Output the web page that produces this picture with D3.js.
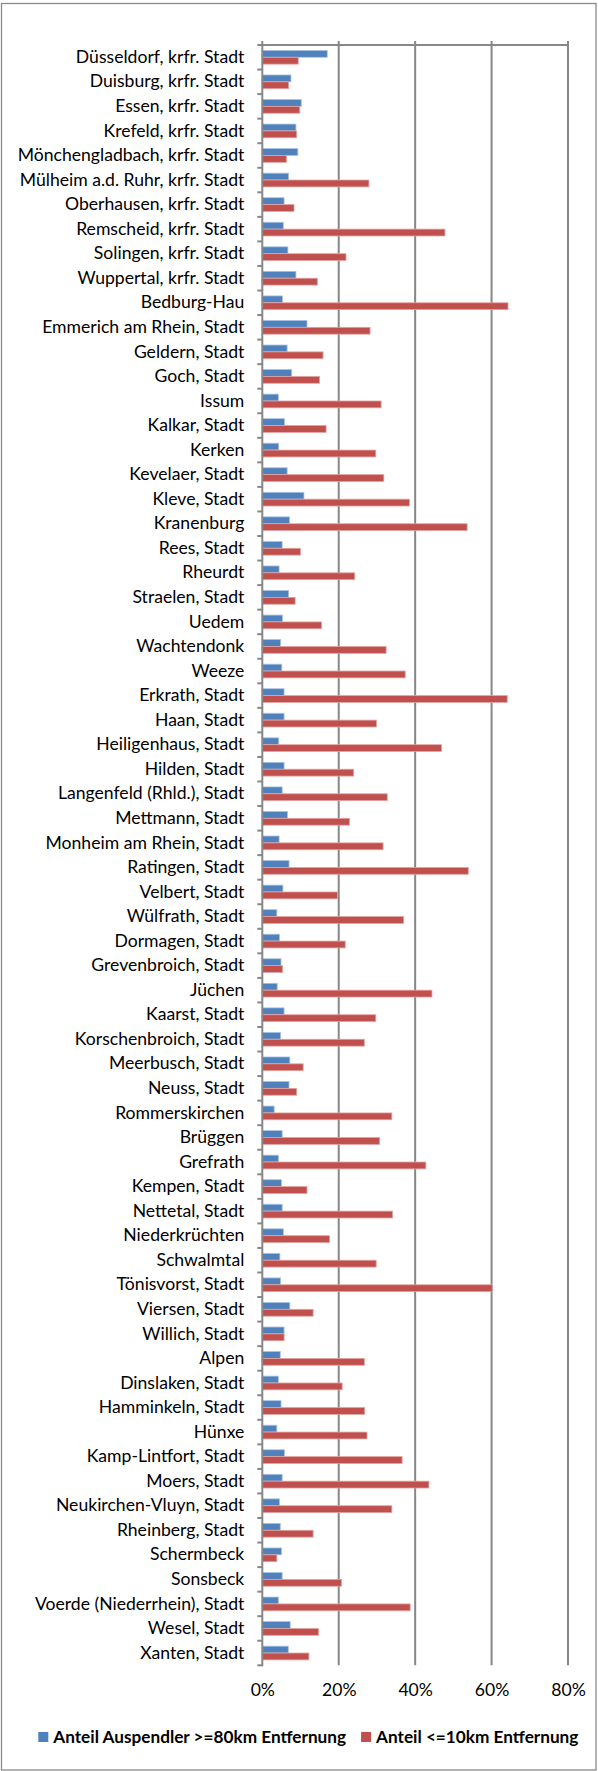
<!DOCTYPE html>
<html>
<head>
<meta charset="utf-8">
<script src="https://cdn.jsdelivr.net/npm/d3@7"></script>
<style>
  body { margin: 0; background: #fff; }
  text { font-family: Lato, "Open Sans", sans-serif; fill: #000; }
</style>
</head>
<body>
<svg id="chart" width="598" height="1771"></svg>
<script>
// Municipalities (Regierungsbezirk Düsseldorf), top to bottom
const categories = [
  "Düsseldorf, krfr. Stadt", "Duisburg, krfr. Stadt", "Essen, krfr. Stadt", "Krefeld, krfr. Stadt",
  "Mönchengladbach, krfr. Stadt", "Mülheim a.d. Ruhr, krfr. Stadt", "Oberhausen, krfr. Stadt",
  "Remscheid, krfr. Stadt", "Solingen, krfr. Stadt", "Wuppertal, krfr. Stadt", "Bedburg-Hau",
  "Emmerich am Rhein, Stadt", "Geldern, Stadt", "Goch, Stadt", "Issum", "Kalkar, Stadt", "Kerken",
  "Kevelaer, Stadt", "Kleve, Stadt", "Kranenburg", "Rees, Stadt", "Rheurdt", "Straelen, Stadt",
  "Uedem", "Wachtendonk", "Weeze", "Erkrath, Stadt", "Haan, Stadt", "Heiligenhaus, Stadt",
  "Hilden, Stadt", "Langenfeld (Rhld.), Stadt", "Mettmann, Stadt", "Monheim am Rhein, Stadt",
  "Ratingen, Stadt", "Velbert, Stadt", "Wülfrath, Stadt", "Dormagen, Stadt", "Grevenbroich, Stadt",
  "Jüchen", "Kaarst, Stadt", "Korschenbroich, Stadt", "Meerbusch, Stadt", "Neuss, Stadt",
  "Rommerskirchen", "Brüggen", "Grefrath", "Kempen, Stadt", "Nettetal, Stadt", "Niederkrüchten",
  "Schwalmtal", "Tönisvorst, Stadt", "Viersen, Stadt", "Willich, Stadt", "Alpen",
  "Dinslaken, Stadt", "Hamminkeln, Stadt", "Hünxe", "Kamp-Lintfort, Stadt", "Moers, Stadt",
  "Neukirchen-Vluyn, Stadt", "Rheinberg, Stadt", "Schermbeck", "Sonsbeck",
  "Voerde (Niederrhein), Stadt", "Wesel, Stadt", "Xanten, Stadt"
];

// Share of out-commuters travelling >= 80 km
const farShare = [
  0.170, 0.075, 0.102, 0.088, 0.093, 0.069, 0.057, 0.055, 0.067, 0.088, 0.053,
  0.117, 0.065, 0.077, 0.042, 0.058, 0.043, 0.065, 0.109, 0.071, 0.052, 0.044, 0.069,
  0.053, 0.048, 0.051, 0.057, 0.057, 0.043, 0.057, 0.052, 0.066, 0.044, 0.070,
  0.054, 0.038, 0.045, 0.049, 0.039, 0.057, 0.048, 0.072, 0.070, 0.031, 0.052,
  0.042, 0.050, 0.052, 0.055, 0.046, 0.048, 0.072, 0.057, 0.047, 0.042, 0.049,
  0.038, 0.058, 0.052, 0.045, 0.047, 0.050, 0.052, 0.042, 0.073, 0.068
];

// Share of out-commuters travelling <= 10 km
const nearShare = [
  0.094, 0.069, 0.098, 0.090, 0.063, 0.279, 0.083, 0.478, 0.219, 0.144, 0.643,
  0.282, 0.159, 0.150, 0.311, 0.167, 0.297, 0.318, 0.385, 0.536, 0.100, 0.242, 0.086,
  0.155, 0.324, 0.374, 0.641, 0.299, 0.469, 0.239, 0.327, 0.228, 0.316, 0.539,
  0.197, 0.370, 0.217, 0.053, 0.444, 0.297, 0.267, 0.107, 0.090, 0.339, 0.307,
  0.428, 0.117, 0.341, 0.176, 0.298, 0.602, 0.133, 0.057, 0.267, 0.209, 0.268,
  0.274, 0.366, 0.436, 0.339, 0.133, 0.038, 0.207, 0.387, 0.147, 0.122
];

const xTicks = [0, 0.2, 0.4, 0.6, 0.8];
const seriesNames = ["Anteil Auspendler >=80km Entfernung", "Anteil <=10km Entfernung"];
const seriesColors = ["#4F81BD", "#C0504D"];
const seriesEdges = ["#A9C3E4", "#E3A3A1"];

const svg = d3.select("#chart");
const W = 598, H = 1771;
const plot = { left: 262.3, right: 568, top: 45, bottom: 1665.3 };
const axisColor = "#878787";
const labelSize = 17.6;

// chart frame
svg.append("rect")
  .attr("x", 1.5).attr("y", 3.5).attr("width", W - 3.5).attr("height", H - 4.5)
  .attr("fill", "#fff").attr("stroke", "#8a8a8a").attr("stroke-width", 1.3);

const x = d3.scaleLinear().domain([0, 0.8]).range([plot.left, plot.right]);
const y = d3.scaleBand().domain(categories).range([plot.top, plot.bottom]);
const inner = d3.scaleBand().domain([0, 1]).range([0, y.bandwidth()]).paddingOuter(0.79);

// vertical gridlines
svg.append("g").selectAll("line")
  .data(xTicks.slice(1))
  .join("line")
  .attr("x1", d => x(d)).attr("x2", d => x(d))
  .attr("y1", plot.top - 4).attr("y2", plot.bottom)
  .attr("stroke", axisColor).attr("stroke-width", 2);

// value axis line along the top
svg.append("line")
  .attr("x1", plot.left).attr("x2", x(0.8))
  .attr("y1", plot.top).attr("y2", plot.top)
  .attr("stroke", axisColor).attr("stroke-width", 2);

// value axis labels at the bottom
const xAxis = svg.append("g")
  .attr("transform", `translate(0,${plot.bottom + 25})`)
  .call(d3.axisBottom(x).tickValues(xTicks).tickFormat(d3.format(".0%")).tickSize(0));
xAxis.select(".domain").remove();
xAxis.selectAll("text")
  .attr("font-size", labelSize).attr("font-family", "Lato, sans-serif").attr("fill", "#000")
  .attr("dy", "0.35em").attr("y", 0);

// bars
const groups = svg.append("g").selectAll("g")
  .data(categories)
  .join("g")
  .attr("transform", d => `translate(0,${y(d)})`);

[farShare, nearShare].forEach((vals, s) => {
  groups.append("rect")
    .attr("x", x(0))
    .attr("y", inner(s))
    .attr("width", (d, i) => x(vals[i]) - x(0))
    .attr("height", inner.bandwidth())
    .attr("fill", seriesColors[s])
    .attr("stroke", seriesEdges[s]).attr("stroke-width", 0.8);
});

// category axis with outward ticks at band boundaries
const yAxis = svg.append("g")
  .attr("transform", `translate(${plot.left},0)`)
  .call(d3.axisLeft(y).tickSize(0).tickPadding(18));
yAxis.select(".domain").remove();
yAxis.selectAll("text")
  .attr("font-size", labelSize).attr("font-family", "Lato, sans-serif").attr("fill", "#000");

svg.append("line")
  .attr("x1", plot.left).attr("x2", plot.left)
  .attr("y1", plot.top - 4).attr("y2", plot.bottom + 1)
  .attr("stroke", axisColor).attr("stroke-width", 2);

const boundaries = categories.map(c => y(c)).concat([plot.bottom]);
svg.append("g").selectAll("line")
  .data(boundaries)
  .join("line")
  .attr("x1", plot.left - 5).attr("x2", plot.left)
  .attr("y1", d => d).attr("y2", d => d)
  .attr("stroke", axisColor).attr("stroke-width", 2);

// legend
const legend = svg.append("g").attr("transform", "translate(38.3,1737)");
let lx = 0;
seriesNames.forEach((name, s) => {
  const item = legend.append("g").attr("transform", `translate(${lx},0)`);
  item.append("rect").attr("x", 0).attr("y", -5).attr("width", 10).attr("height", 10)
    .attr("fill", seriesColors[s]);
  const t = item.append("text").attr("x", 15).attr("dy", "0.35em")
    .attr("font-size", 17.2).attr("font-weight", "bold").text(name);
  lx += 15 + t.node().getComputedTextLength() + 15;
});
</script>
</body>
</html>
